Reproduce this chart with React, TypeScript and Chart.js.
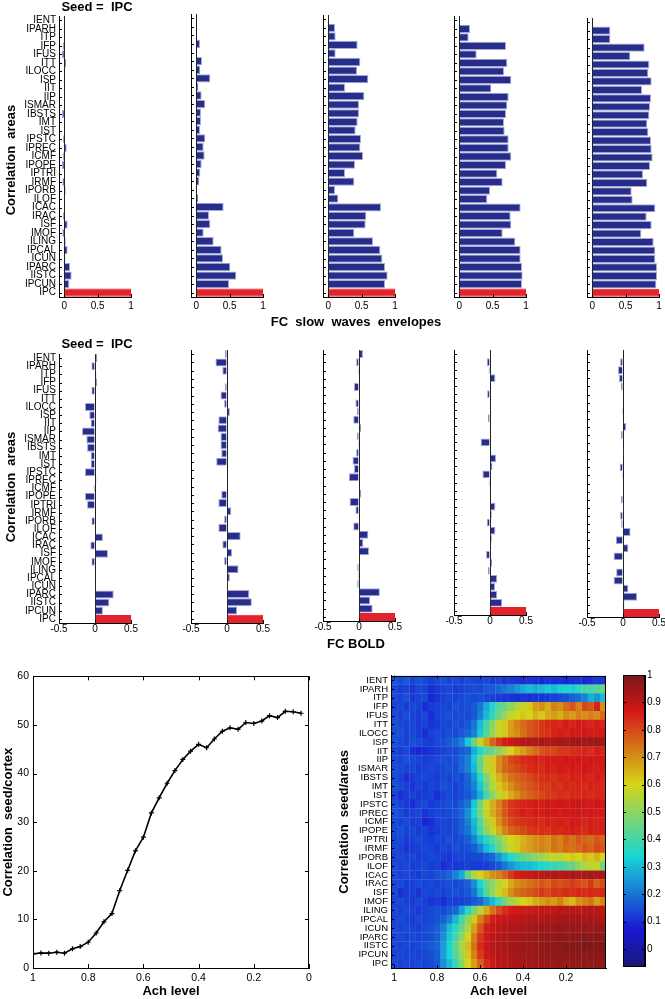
import React, { useEffect, useRef } from "react";
import { Chart, registerables } from "chart.js";

Chart.register(...registerables);

const FONT = "'Liberation Sans', Arial, Helvetica, sans-serif";
Chart.defaults.font.family = FONT;
Chart.defaults.font.size = 10;
Chart.defaults.color = "#000";

// ---------------- data ----------------
const AREAS = ["IENT","IPARH","ITP","IFP","IFUS","ITT","ILOCC","ISP","IIT","IIP","ISMAR","IBSTS","IMT","IST","IPSTC","IPREC","ICMF","IPOPE","IPTRI","IRMF","IPORB","ILOF","ICAC","IRAC","ISF","IMOF","ILING","IPCAL","ICUN","IPARC","IISTC","IPCUN","IPC"];
const SEED = "IPC";

const ENV_TICKS = [0, 0.5, 1];
const BOLD_TICKS = [-0.5, 0, 0.5];

const ENV_1 = [0,0,0,-0.02,-0.035,0.025,0,0,0,0,0,-0.035,0,0,-0.02,0.035,-0.02,-0.035,0,-0.03,0.02,0,0,-0.02,0.05,-0.03,0.02,0.05,0.015,0.085,0.11,0.075,1];
const ENV_2 = [0.01,0.005,0.005,0.055,-0.01,0.085,0.06,0.21,0.03,0.08,0.135,0.07,0.07,0.055,0.135,0.11,0.125,0.08,0.06,0.045,0,0.03,0.41,0.19,0.21,0.11,0.26,0.38,0.40,0.51,0.60,0.49,1];
const ENV_3 = [0,0.10,0.11,0.44,0.11,0.48,0.43,0.60,0.25,0.54,0.46,0.46,0.44,0.41,0.49,0.48,0.52,0.40,0.25,0.39,0.10,0.15,0.79,0.57,0.56,0.39,0.67,0.78,0.81,0.85,0.89,0.85,1];
const ENV_4 = [0,0.16,0.14,0.70,0.26,0.72,0.67,0.78,0.48,0.74,0.72,0.70,0.67,0.68,0.74,0.74,0.78,0.70,0.57,0.65,0.46,0.42,0.92,0.77,0.78,0.65,0.84,0.92,0.92,0.94,0.95,0.94,1];
const ENV_5 = [0,0.27,0.27,0.785,0.57,0.855,0.84,0.89,0.745,0.88,0.865,0.855,0.825,0.84,0.88,0.89,0.905,0.865,0.76,0.825,0.59,0.605,0.945,0.815,0.89,0.735,0.92,0.945,0.945,0.97,0.97,0.96,1];

const BOLD_1 = [0.03,-0.05,0.02,0.03,-0.05,0,-0.14,-0.08,-0.06,-0.18,-0.12,-0.11,-0.06,-0.06,-0.14,0.02,-0.02,-0.14,-0.11,0,-0.05,0,0.11,-0.065,0.18,-0.05,0,0,0.01,0.26,0.20,0.11,0.5];
const BOLD_2 = [-0.03,-0.16,-0.065,0,-0.03,-0.09,-0.04,0.04,-0.12,-0.13,-0.09,-0.09,-0.08,-0.15,0,0,0.01,-0.08,-0.12,0.06,-0.04,-0.12,0.19,-0.065,0.07,-0.04,0.16,0.04,0.015,0.31,0.345,0.14,0.5];
const BOLD_3 = [0.055,-0.04,-0.015,0,-0.07,0,-0.05,-0.03,-0.08,0.03,-0.03,-0.015,-0.04,-0.09,-0.07,-0.14,0,0.03,-0.13,-0.05,0,-0.08,0.13,0.06,0.14,0,-0.025,-0.015,-0.025,0.29,0.155,0.19,0.5];
const BOLD_4 = [0,-0.045,-0.02,0.075,0,-0.04,0,0,-0.03,0,0,-0.13,0,0.085,0.035,-0.105,-0.015,0,0,0.075,0.025,-0.045,0.075,0.025,0.01,-0.055,0.03,-0.03,0.10,0.07,0.10,0.17,0.5];
const BOLD_5 = [0,-0.04,-0.07,-0.055,-0.03,0,0,-0.015,0,0.045,-0.03,0,0.015,0,-0.045,-0.015,0,0,-0.03,0.015,-0.04,-0.025,0.105,-0.10,0.075,-0.13,0,-0.095,-0.13,0.075,0.195,0.02,0.5];

const ACH_LEVELS = [1,0.971,0.943,0.914,0.886,0.857,0.829,0.8,0.771,0.743,0.714,0.686,0.657,0.629,0.6,0.571,0.543,0.514,0.486,0.457,0.429,0.4,0.371,0.343,0.314,0.286,0.257,0.229,0.2,0.171,0.143,0.114,0.086,0.057,0.029];
const CORR_CORTEX = [2.9,3.1,3.05,3.25,3.05,3.95,4.4,5.3,7.2,9.5,11.2,15.9,20.1,24.1,26.9,31.9,35.0,38.0,40.6,42.9,44.6,46.0,45.3,47.1,48.7,49.4,49.1,50.5,50.3,50.8,51.9,51.5,52.8,52.7,52.4];
const LINE_X_TICKS = [1, 0.8, 0.6, 0.4, 0.2, 0];
const LINE_Y_TICKS = [0, 10, 20, 30, 40, 50, 60];
const HEAT_X_TICKS = [1, 0.8, 0.6, 0.4, 0.2];
const CB_TICKS = [0, 0.1, 0.2, 0.3, 0.4, 0.5, 0.6, 0.7, 0.8, 0.9, 1];
const CB_MIN = -0.062;
const CB_MAX = 1.0;

// heat map, rows = AREAS, columns = ACH_LEVELS, values in percent
const HEAT = [
  [15,14,16,13,15,14,12,14,15,13,14,13,15,14,13,14,12,13,11,12,11,10,11,10,9,11,10,11,9,10,11,9,10,12,11],
  [14,12,13,11,14,13,10,12,13,14,12,13,14,15,14,16,16,18,20,22,25,28,30,28,30,32,30,33,35,33,37,40,40,42,45],
  [14,13,15,12,13,14,9,11,13,14,13,14,15,14,15,14,13,12,11,11,10,11,10,11,11,12,13,14,15,17,19,22,28,25,30],
  [13,14,12,14,13,10,12,13,14,13,15,14,15,16,20,28,35,42,45,50,55,58,62,68,70,66,72,70,75,78,72,80,78,85,70],
  [14,13,15,13,12,14,10,13,14,15,14,15,14,16,22,30,38,45,52,58,60,62,60,65,62,66,68,65,70,68,72,70,72,70,75],
  [15,14,13,14,12,13,11,12,14,13,15,14,16,20,30,40,50,58,62,68,72,75,78,80,82,84,85,84,86,85,87,86,85,86,85],
  [14,15,13,14,12,10,13,14,13,15,14,16,18,22,32,42,52,58,62,68,70,74,78,80,82,83,85,86,85,87,86,88,87,86,88],
  [15,14,13,15,14,13,12,14,15,16,18,22,32,45,58,68,76,82,86,88,90,91,92,92,93,92,93,94,93,94,95,94,95,95,94],
  [13,12,14,10,9,10,11,12,13,14,14,16,18,28,35,42,45,50,55,60,65,68,72,75,78,80,80,82,82,84,84,85,84,86,85],
  [14,13,15,14,13,12,13,14,15,14,15,18,22,32,45,55,62,70,75,80,82,84,85,86,85,86,87,86,88,87,88,87,88,87,88],
  [15,14,13,14,12,13,14,13,14,15,14,18,22,30,44,56,62,70,76,78,80,82,84,85,84,86,85,87,86,87,86,88,87,86,87],
  [14,13,10,12,13,14,13,12,14,13,15,14,18,25,36,48,58,65,70,74,76,78,80,82,83,84,83,85,84,86,85,86,85,86,85],
  [15,14,13,11,13,12,14,13,15,14,13,15,17,22,32,45,55,62,66,70,74,76,78,80,82,82,84,83,85,84,85,84,86,85,84],
  [13,10,12,13,11,12,13,10,13,14,13,14,16,20,28,40,50,56,62,66,70,74,76,78,80,82,82,84,83,85,84,85,84,85,84],
  [14,13,12,10,13,14,12,13,14,15,14,17,20,32,46,58,66,72,78,82,84,85,86,87,86,88,87,88,87,88,89,88,87,88,87],
  [15,14,12,13,14,11,13,14,13,14,15,18,24,34,48,58,66,72,78,82,84,86,85,87,86,88,87,86,88,87,88,87,88,86,87],
  [14,13,14,12,13,9,10,13,14,13,14,17,22,30,42,54,62,70,76,80,82,83,84,85,84,86,85,86,85,87,86,85,86,85,86],
  [14,15,13,14,12,13,11,12,14,13,14,17,20,28,40,50,58,66,72,76,78,80,82,83,84,83,85,84,85,86,85,84,86,85,86],
  [13,14,12,13,14,13,12,14,13,15,14,15,17,22,30,36,42,48,55,60,62,65,68,70,72,70,74,72,76,74,78,76,75,78,76],
  [14,13,11,12,13,14,13,12,14,13,15,14,15,17,22,30,36,44,52,58,62,66,68,70,72,70,74,72,75,74,76,78,76,80,78],
  [13,14,13,14,12,13,14,13,12,11,13,14,13,14,14,16,18,24,30,36,40,44,46,50,52,55,58,56,60,62,60,64,62,65,60],
  [14,13,14,12,13,14,12,13,10,12,11,12,13,12,12,12,14,16,20,25,28,30,30,32,34,36,38,40,42,45,50,55,56,58,45],
  [14,13,14,13,12,14,13,15,16,18,22,28,45,55,60,65,70,72,76,82,86,88,89,90,90,91,92,91,92,93,92,93,94,92,93],
  [13,14,12,13,14,13,14,13,14,15,14,15,17,24,34,44,50,56,60,66,70,72,74,76,78,76,80,78,80,82,80,78,82,76,80],
  [14,10,12,13,11,14,13,14,13,14,15,14,16,20,30,42,52,58,64,70,74,76,78,80,82,80,83,82,84,83,85,84,85,84,85],
  [13,14,13,12,14,13,11,12,10,13,12,13,14,16,18,24,30,38,46,52,56,60,62,66,68,70,68,72,66,64,70,72,74,68,72],
  [14,13,14,13,12,13,14,15,14,16,18,26,36,46,56,66,74,80,84,86,87,88,88,89,90,89,90,91,90,91,90,91,92,91,90],
  [13,14,13,12,14,13,14,15,17,22,30,40,50,62,72,80,86,88,89,90,90,91,92,91,92,93,92,93,94,93,94,93,94,93,92],
  [14,13,14,13,12,14,15,17,22,30,36,45,55,68,78,86,89,90,91,92,92,93,94,94,95,94,95,96,95,96,95,96,95,96,95],
  [13,14,13,14,13,14,15,17,24,32,40,50,60,72,82,88,90,91,92,93,93,94,94,95,95,96,96,97,96,97,97,98,97,98,97],
  [14,13,14,13,14,15,16,18,26,34,44,54,64,74,84,89,91,92,93,94,94,95,95,96,96,97,97,97,98,98,98,99,99,98,99],
  [13,14,13,14,13,14,15,17,26,34,42,52,62,72,82,88,90,92,92,93,94,94,95,95,96,96,97,96,97,97,98,97,98,97,98],
  [14,13,14,13,14,13,14,16,24,30,38,50,60,68,76,84,88,90,91,92,93,93,94,94,95,95,95,96,95,96,96,97,96,97,96],
];

// ---------------- styling helpers ----------------
const BLUE = "#262d8b";
const BLUE_EDGE = "#a7aad6";
const RED = "#e3222b";

function jetRGB(t: number): number[] {
  const f = (x: number) => Math.max(0, Math.min(1, x));
  return [f(1.5 - Math.abs(4 * t - 3)), f(1.5 - Math.abs(4 * t - 2)), f(1.5 - Math.abs(4 * t - 1))];
}
function rgbCss(c: number[]) {
  const m = (v: number) => Math.round(v * 255 * 0.74 + 24);
  return `rgb(${m(c[0])},${m(c[1])},${m(c[2])})`;
}
function jetColor(v: number) {
  const t = Math.max(0, Math.min(1, (v - CB_MIN) / (CB_MAX - CB_MIN)));
  return rgbCss(jetRGB(t));
}
const JET_STOPS = [0, 0.125, 0.375, 0.625, 0.875, 1];

type TickSpec = { id: string; side: "left" | "right" | "top" | "bottom"; len: number };
function makeDecor(box: boolean, ticks: TickSpec[]) {
  return {
    id: "decor",
    afterDraw(chart: any) {
      const { ctx, chartArea: a } = chart;
      ctx.save();
      ctx.strokeStyle = "#000";
      ctx.lineWidth = 1;
      for (const s of ticks) {
        const sc = chart.scales[s.id];
        sc.ticks.forEach((_: any, i: number) => {
          const p = Math.round(sc.getPixelForTick(i)) + 0.5;
          ctx.beginPath();
          if (s.side === "left") { ctx.moveTo(a.left, p); ctx.lineTo(a.left + s.len, p); }
          if (s.side === "right") { ctx.moveTo(a.right, p); ctx.lineTo(a.right - s.len, p); }
          if (s.side === "bottom") { ctx.moveTo(p, a.bottom); ctx.lineTo(p, a.bottom - s.len); }
          if (s.side === "top") { ctx.moveTo(p, a.top); ctx.lineTo(p, a.top + s.len); }
          ctx.stroke();
        });
      }
      if (box) {
        ctx.strokeRect(Math.round(a.left) + 0.5, Math.round(a.top) + 0.5, Math.round(a.right - a.left) - 1, Math.round(a.bottom - a.top));
      }
      ctx.restore();
    },
  };
}

function setTicks(values: number[]) {
  return (s: any) => { s.ticks = values.map((v) => ({ value: v })); };
}
function fixW(w: number) { return (s: any) => { s.width = w; }; }
function fixH(h: number) { return (s: any) => { s.height = h; }; }
const NO_GRID = { display: false, drawTicks: false };

// ---------------- generic canvas ----------------
function ChartCanvas({ x, y, w, h, make }: { x: number; y: number; w: number; h: number; make: () => any }) {
  const ref = useRef<HTMLCanvasElement | null>(null);
  useEffect(() => {
    const c = new Chart(ref.current as HTMLCanvasElement, make());
    return () => c.destroy();
  }, []);
  return <canvas ref={ref} width={w} height={h} style={{ position: "absolute", left: x, top: y, width: w, height: h }} />;
}

// ---------------- bar panels ----------------
type Panel = { values: number[]; left: number; top: number; bottom: number; min: number; max: number; ticks: number[]; labels: boolean; tickPad: number };

function BarPanel({ p }: { p: Panel }) {
  const plotW = 72;
  const plotH = p.bottom - p.top;
  const padL = p.labels ? 0 : 14;
  const yW = p.labels ? p.left : 4;
  const padT = 5, padR = 10, xH = 17, padB = 1;
  const x = p.left - yW - padL;
  const y = p.top - padT;
  const w = padL + yW + plotW + padR;
  const h = padT + plotH + xH + padB;
  const make = () => ({
    type: "bar",
    data: {
      labels: AREAS,
      datasets: [{
        data: p.values,
        backgroundColor: AREAS.map((a) => (a === SEED ? RED : BLUE)),
        borderColor: AREAS.map((a) => (a === SEED ? RED : BLUE_EDGE)),
        borderWidth: 1,
        barPercentage: 0.97,
        categoryPercentage: 1,
      }],
    },
    options: {
      indexAxis: "y",
      responsive: false,
      animation: false,
      devicePixelRatio: 1,
      layout: { padding: { left: padL, top: padT, right: padR, bottom: padB } },
      plugins: { legend: { display: false }, tooltip: { enabled: false } },
      scales: {
        x: {
          type: "linear", min: p.min, max: p.max,
          afterBuildTicks: setTicks(p.ticks),
          afterFit: fixH(xH),
          ticks: { font: { size: 10 }, padding: p.tickPad, callback: (v: any) => String(v) },
          grid: { drawTicks: false, color: (c: any) => (c.tick && c.tick.value === 0 ? "#222" : "rgba(0,0,0,0)") },
          border: { display: true, color: "#000" },
        },
        y: {
          type: "category",
          afterFit: fixW(yW),
          ticks: { display: p.labels, autoSkip: false, font: { size: 10 }, padding: 3 },
          grid: NO_GRID,
          border: { display: true, color: "#000" },
        },
      },
    },
    plugins: [makeDecor(false, [{ id: "y", side: "left", len: 3 }, { id: "x", side: "bottom", len: 3 }])],
  });
  return <ChartCanvas x={x} y={y} w={w} h={h} make={make} />;
}

const LEFTS = [59, 191, 323, 454, 587];
const ENV_SERIES = [ENV_1, ENV_2, ENV_3, ENV_4, ENV_5];
const BOLD_SERIES = [BOLD_1, BOLD_2, BOLD_3, BOLD_4, BOLD_5];
const TOP_TOPS = [12, 14, 15, 16, 18];
const MID_BOTTOMS = [623, 623, 621, 615, 617];

// ---------------- line chart ----------------
function LineChart() {
  const plot = { l: 33, t: 674, w: 276, h: 294 };
  const padT = 8, padR = 10, yW = 33, xH = 31;
  const make = () => ({
    type: "line",
    data: {
      datasets: [{
        data: ACH_LEVELS.map((a, i) => ({ x: a, y: CORR_CORTEX[i] })),
        borderColor: "#000", borderWidth: 1.6, tension: 0,
        pointStyle: "cross", pointRadius: 2.5, pointBorderColor: "#000", pointBorderWidth: 1.2,
      }],
    },
    options: {
      responsive: false, animation: false, devicePixelRatio: 1,
      layout: { padding: { left: 0, top: padT, right: padR, bottom: 0 } },
      plugins: { legend: { display: false }, tooltip: { enabled: false } },
      scales: {
        x: {
          type: "linear", reverse: true, min: 0, max: 1,
          afterBuildTicks: setTicks(LINE_X_TICKS), afterFit: fixH(xH),
          ticks: { font: { size: 10.5 }, padding: 4, callback: (v: any) => String(v) },
          grid: NO_GRID, border: { display: true, color: "#000" },
          title: { display: true, text: "Ach level", font: { size: 13, weight: "bold" }, padding: { top: 0, bottom: 0 } },
        },
        y: {
          type: "linear", min: 0, max: 60,
          afterBuildTicks: setTicks(LINE_Y_TICKS), afterFit: fixW(yW),
          ticks: { font: { size: 10.5 }, padding: 4 },
          grid: NO_GRID, border: { display: true, color: "#000" },
          title: { display: true, text: "Correlation  seed/cortex", font: { size: 13, weight: "bold" }, padding: { top: 1, bottom: 0 } },
        },
      },
    },
    plugins: [makeDecor(true, [
      { id: "x", side: "bottom", len: 4 }, { id: "x", side: "top", len: 4 },
      { id: "y", side: "left", len: 4 }, { id: "y", side: "right", len: 4 },
    ])],
  });
  return <ChartCanvas x={plot.l - yW} y={plot.t - padT} w={yW + plot.w + padR} h={padT + plot.h + xH} make={make} />;
}

// ---------------- heat map ----------------
function HeatMap() {
  const plot = { l: 391, t: 673, w: 215, h: 295 };
  const padT = 6, padR = 6, yW = 55, xH = 31;
  const half = (ACH_LEVELS[0] - ACH_LEVELS[1]) / 2;
  const make = () => ({
    type: "bar",
    data: {
      labels: AREAS,
      datasets: ACH_LEVELS.map((a, c) => ({
        data: HEAT.map(() => [a - half * 1.04, a + half * 1.04]),
        backgroundColor: HEAT.map((row) => jetColor(row[c] / 100)),
        borderWidth: 0,
        grouped: false,
        barPercentage: 1.04,
        categoryPercentage: 1,
      })),
    },
    options: {
      indexAxis: "y",
      responsive: false, animation: false, devicePixelRatio: 1,
      layout: { padding: { left: 0, top: padT, right: padR, bottom: 0 } },
      plugins: { legend: { display: false }, tooltip: { enabled: false } },
      scales: {
        x: {
          type: "linear", reverse: true,
          min: ACH_LEVELS[ACH_LEVELS.length - 1] - half, max: ACH_LEVELS[0] + half,
          afterBuildTicks: setTicks(HEAT_X_TICKS), afterFit: fixH(xH),
          ticks: { font: { size: 10.5 }, padding: 4, callback: (v: any) => String(v) },
          grid: NO_GRID, border: { display: true, color: "#000" },
          title: { display: true, text: "Ach level", font: { size: 13, weight: "bold" }, padding: { top: 0, bottom: 0 } },
        },
        y: {
          type: "category", afterFit: fixW(yW),
          ticks: { autoSkip: false, font: { size: 9.5 }, padding: 3 },
          grid: NO_GRID, border: { display: true, color: "#000" },
          title: { display: true, text: "Correlation  seed/areas", font: { size: 13, weight: "bold" }, padding: { top: 1, bottom: 0 } },
        },
      },
    },
    plugins: [makeDecor(true, [{ id: "y", side: "left", len: 3 }, { id: "x", side: "bottom", len: 3 }, { id: "x", side: "top", len: 3 }])],
  });
  return <ChartCanvas x={plot.l - yW} y={plot.t - padT} w={yW + plot.w + padR} h={padT + plot.h + xH} make={make} />;
}

// ---------------- color bar ----------------
function ColorBar() {
  const plot = { l: 623, t: 673, w: 22, h: 295 };
  const padL = 2, padT = 6, padB = 6, yW = 20;
  const make = () => ({
    type: "bar",
    data: {
      labels: ["scale"],
      datasets: [{
        data: [[CB_MIN, CB_MAX]],
        backgroundColor: (ctx: any) => {
          const a = ctx.chart.chartArea;
          if (!a) return "#000";
          const g = ctx.chart.ctx.createLinearGradient(0, a.bottom, 0, a.top);
          JET_STOPS.forEach((t) => g.addColorStop(t, rgbCss(jetRGB(t))));
          return g;
        },
        borderWidth: 0, barPercentage: 1, categoryPercentage: 1,
      }],
    },
    options: {
      responsive: false, animation: false, devicePixelRatio: 1,
      layout: { padding: { left: padL, top: padT, right: 0, bottom: padB } },
      plugins: { legend: { display: false }, tooltip: { enabled: false } },
      scales: {
        x: { display: false },
        y: {
          position: "right", type: "linear", min: CB_MIN, max: CB_MAX,
          afterBuildTicks: setTicks(CB_TICKS), afterFit: fixW(yW),
          ticks: { font: { size: 10 }, padding: 2, callback: (v: any) => String(v) },
          grid: NO_GRID, border: { display: true, color: "#000" },
        },
      },
    },
    plugins: [makeDecor(true, [{ id: "y", side: "left", len: 3 }, { id: "y", side: "right", len: 3 }])],
  });
  return <ChartCanvas x={plot.l - padL} y={plot.t - padT} w={padL + plot.w + yW} h={padT + plot.h + padB} make={make} />;
}

// ---------------- text ----------------
function Txt({ x, y, text, rotate, size = 13, bold = true }: { x: number; y: number; text: string; rotate?: boolean; size?: number; bold?: boolean }) {
  return (
    <div style={{
      position: "absolute", left: x, top: y, whiteSpace: "pre", fontFamily: FONT, fontSize: size,
      fontWeight: bold ? "bold" : "normal", lineHeight: 1, color: "#000",
      transform: `translate(-50%, -50%)${rotate ? " rotate(-90deg)" : ""}`,
    }}>{text}</div>
  );
}

export default function App() {
  const topPanels: Panel[] = ENV_SERIES.map((v, i) => ({
    values: v, left: LEFTS[i], top: TOP_TOPS[i], bottom: 297, min: -0.08, max: 1, ticks: ENV_TICKS, labels: i === 0, tickPad: 3,
  }));
  const midPanels: Panel[] = BOLD_SERIES.map((v, i) => ({
    values: v, left: LEFTS[i], top: 350, bottom: MID_BOTTOMS[i], min: -0.5, max: 0.5, ticks: BOLD_TICKS, labels: i === 0, tickPad: 0,
  }));
  return (
    <div style={{ position: "absolute", left: 0, top: 0, width: 665, height: 999, overflow: "hidden", background: "#fff" }}>
      {topPanels.map((p, i) => <BarPanel key={"t" + i} p={p} />)}
      {midPanels.map((p, i) => <BarPanel key={"m" + i} p={p} />)}
      <LineChart />
      <HeatMap />
      <ColorBar />
      <Txt x={97} y={6} text={"Seed =  IPC"} />
      <Txt x={97} y={343} text={"Seed =  IPC"} />
      <Txt x={10} y={160} text={"Correlation  areas"} rotate />
      <Txt x={10} y={487} text={"Correlation  areas"} rotate />
      <Txt x={356} y={321} text={"FC  slow  waves  envelopes"} />
      <Txt x={356} y={643} text={"FC BOLD"} />
    </div>
  );
}
